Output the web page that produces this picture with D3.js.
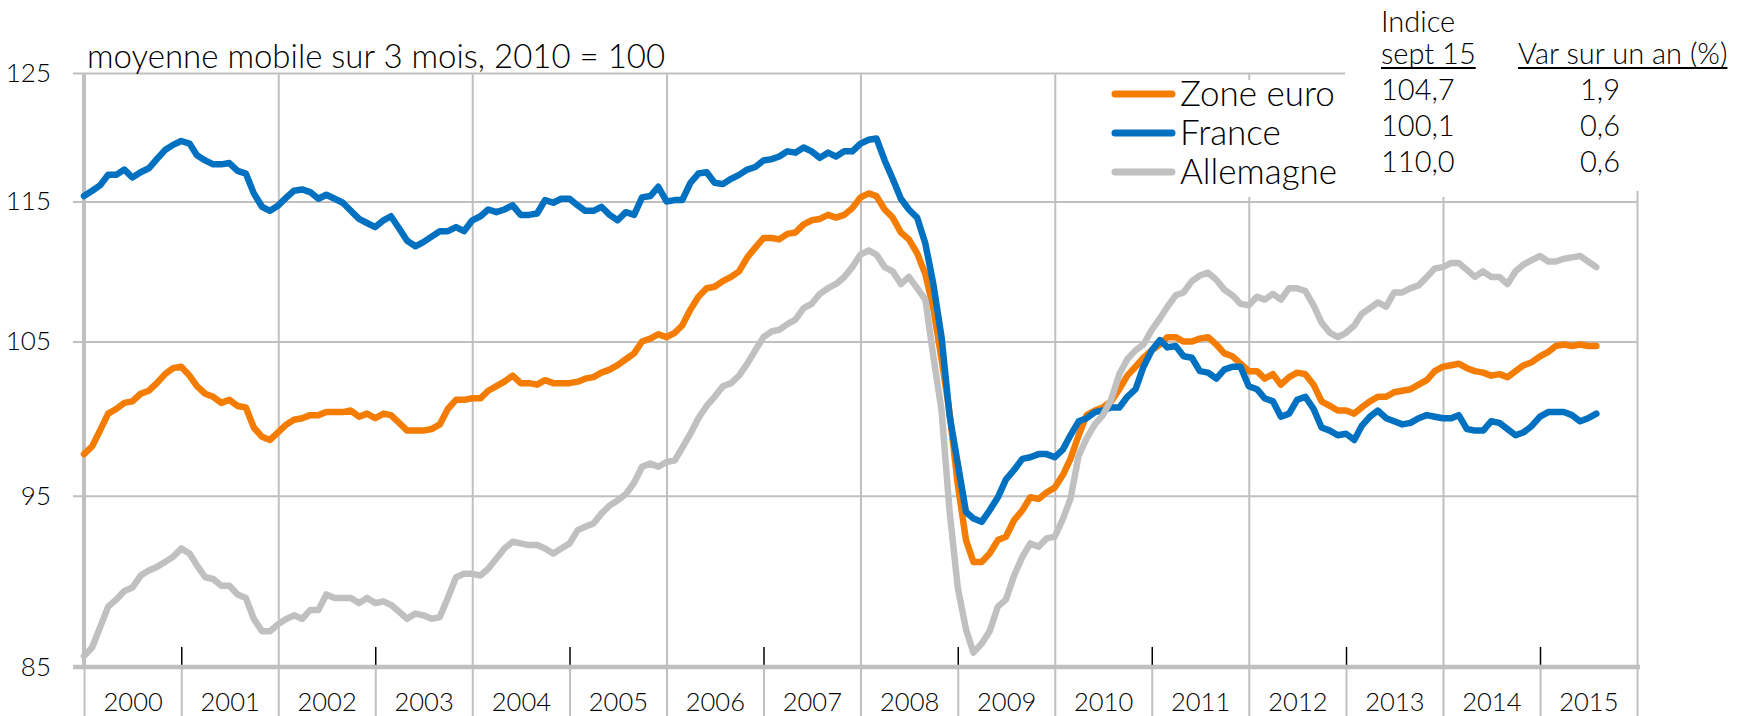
<!DOCTYPE html>
<html>
<head>
<meta charset="utf-8">
<script src="https://cdn.jsdelivr.net/npm/d3@7"></script>
<style>
  body { margin: 0; background: #fff; }
  svg text { font-family: Lato, "Liberation Sans", Arial, sans-serif; font-weight: 300; fill: #000; }
</style>
</head>
<body>
<svg id="chart" width="1756" height="716"></svg>
<script>
// monthly values, 3-month moving average, 2010 = 100, from Jan 2000
const startYear = 2000;

const zoneEuro = [
  97.6, 98.1, 99.1, 100.2, 100.5, 100.9, 101.0, 101.5, 101.7, 102.2, 102.8, 103.2,
  103.3, 102.7, 102.0, 101.5, 101.3, 100.9, 101.1, 100.7, 100.6, 99.3, 98.7, 98.5,
  99.0, 99.5, 99.8, 99.9, 100.1, 100.1, 100.3, 100.3, 100.3, 100.4, 100.0, 100.2,
  99.9, 100.2, 100.1, 99.6, 99.1, 99.1, 99.1, 99.2, 99.5, 100.5, 101.1, 101.1,
  101.2, 101.2, 101.7, 102.0, 102.3, 102.7, 102.2, 102.2, 102.1, 102.4, 102.2, 102.2,
  102.2, 102.3, 102.5, 102.6, 102.9, 103.1, 103.4, 103.8, 104.2, 105.0, 105.2, 105.5,
  105.3, 105.6, 106.1, 107.2, 108.1, 108.7, 108.8, 109.2, 109.5, 109.9, 110.9, 111.6,
  112.3, 112.3, 112.2, 112.6, 112.7, 113.3, 113.6, 113.7, 114.0, 113.8, 114.0, 114.5,
  115.3, 115.6, 115.4, 114.4, 113.8, 112.7, 112.2, 111.2, 109.7, 107.3, 103.8, 100.3,
  95.7, 92.3, 91.0, 91.0, 91.5, 92.3, 92.5, 93.5, 94.1, 94.9, 94.8, 95.2,
  95.5, 96.3, 97.3, 98.8, 100.1, 100.4, 100.6, 101.0, 101.8, 102.7, 103.3, 103.9,
  104.4, 104.8, 105.3, 105.3, 105.0, 105.0, 105.2, 105.3, 104.8, 104.2, 104.0, 103.5,
  103.0, 103.0, 102.5, 102.8, 102.1, 102.6, 102.9, 102.8, 102.1, 101.0, 100.7, 100.4,
  100.4, 100.2, 100.6, 101.0, 101.3, 101.3, 101.6, 101.7, 101.8, 102.1, 102.4, 103.0,
  103.3, 103.4, 103.5, 103.2, 103.0, 102.9, 102.7, 102.8, 102.6, 103.0, 103.4, 103.6,
  104.0, 104.3, 104.7, 104.8, 104.7, 104.8, 104.7, 104.7
];

const france = [
  115.4, 115.8, 116.2, 117.0, 117.0, 117.4, 116.8, 117.2, 117.5, 118.2, 118.9, 119.3,
  119.6, 119.4, 118.5, 118.1, 117.8, 117.8, 117.9, 117.3, 117.1, 115.6, 114.6, 114.3,
  114.7, 115.3, 115.8, 115.9, 115.7, 115.2, 115.5, 115.2, 114.9, 114.3, 113.7, 113.4,
  113.1, 113.6, 113.9, 113.0, 112.1, 111.7, 112.0, 112.4, 112.8, 112.8, 113.1, 112.8,
  113.6, 113.9, 114.4, 114.2, 114.4, 114.7, 114.0, 114.0, 114.1, 115.1, 114.9, 115.2,
  115.2, 114.7, 114.3, 114.3, 114.6, 114.0, 113.6, 114.2, 114.0, 115.3, 115.4, 116.1,
  115.0, 115.1, 115.1, 116.4, 117.1, 117.2, 116.4, 116.3, 116.7, 117.0, 117.4, 117.6,
  118.1, 118.2, 118.4, 118.8, 118.7, 119.1, 118.8, 118.3, 118.7, 118.4, 118.8, 118.8,
  119.4, 119.7, 119.8, 118.1, 116.7, 115.2, 114.4, 113.8, 111.9, 109.0, 105.3, 100.1,
  97.0, 94.0, 93.6, 93.4, 94.1, 94.9, 96.0, 96.6, 97.3, 97.4, 97.6, 97.6,
  97.4, 97.9, 98.8, 99.7, 99.9, 100.3, 100.4, 100.6, 100.6, 101.3, 101.8, 103.3,
  104.4, 105.1, 104.6, 104.7, 104.0, 103.9, 103.0, 102.9, 102.5, 103.1, 103.3, 103.3,
  102.0, 101.8, 101.2, 101.0, 100.0, 100.2, 101.1, 101.3, 100.5, 99.3, 99.1, 98.8,
  98.9, 98.5, 99.4, 100.0, 100.4, 99.9, 99.7, 99.5, 99.6, 99.9, 100.1, 100.0,
  99.9, 99.9, 100.1, 99.2, 99.1, 99.1, 99.7, 99.6, 99.2, 98.8, 99.0, 99.4,
  100.0, 100.3, 100.3, 100.3, 100.1, 99.7, 99.9, 100.2
];

const allemagne = [
  85.6, 86.1, 87.2, 88.4, 88.8, 89.3, 89.5, 90.2, 90.5, 90.7, 91.0, 91.3,
  91.8, 91.5, 90.8, 90.1, 90.0, 89.6, 89.6, 89.1, 88.9, 87.7, 87.0, 87.0,
  87.4, 87.7, 87.9, 87.7, 88.2, 88.2, 89.1, 88.9, 88.9, 88.9, 88.6, 88.9,
  88.6, 88.7, 88.5, 88.1, 87.7, 88.0, 87.9, 87.7, 87.8, 88.9, 90.1, 90.3,
  90.3, 90.2, 90.6, 91.2, 91.8, 92.2, 92.1, 92.0, 92.0, 91.8, 91.5, 91.8,
  92.1, 92.9, 93.1, 93.3, 93.9, 94.4, 94.7, 95.1, 95.8, 96.8, 97.0, 96.8,
  97.1, 97.2, 98.0, 98.9, 99.9, 100.7, 101.3, 102.0, 102.2, 102.7, 103.5, 104.4,
  105.3, 105.7, 105.8, 106.2, 106.5, 107.3, 107.6, 108.3, 108.7, 109.0, 109.5, 110.2,
  111.1, 111.4, 111.1, 110.2, 109.9, 109.0, 109.5, 108.7, 107.9, 104.0, 100.4, 94.1,
  89.5, 87.1, 85.8, 86.3, 87.0, 88.4, 88.8, 90.2, 91.3, 92.1, 91.9, 92.4,
  92.5, 93.6, 94.8, 97.5, 98.6, 99.5, 100.1, 101.1, 102.8, 103.8, 104.4, 104.8,
  105.8, 106.6, 107.4, 108.2, 108.4, 109.2, 109.6, 109.8, 109.3, 108.6, 108.2, 107.6,
  107.5, 108.1, 107.9, 108.3, 107.9, 108.7, 108.7, 108.5, 107.5, 106.3, 105.6, 105.3,
  105.6, 106.1, 106.9, 107.3, 107.7, 107.4, 108.4, 108.4, 108.7, 108.9, 109.5, 110.1,
  110.2, 110.5, 110.5, 110.0, 109.5, 109.9, 109.5, 109.5, 109.0, 109.9, 110.4, 110.7,
  111.0, 110.6, 110.6, 110.8, 110.9, 111.0, 110.6, 110.2
];

const yTicks = [85, 95, 105, 115, 125];
const years = d3.range(2000, 2016);
const seriesNames = ["Zone euro", "France", "Allemagne"];
const tableHead1 = "Indice";
const tableHead2 = ["sept 15", "Var sur un an (%)"];
const tableIndice = ["104,7", "100,1", "110,0"];
const tableVar = ["1,9", "0,6", "0,6"];
const title = "moyenne mobile sur 3 mois, 2010 = 100";

const colors = ["#f47c00", "#0070c0", "#c0c0c0"];
const gridColor = "#c0c0c0";

const svg = d3.select("#chart");
const plotL = 84, plotR = 1637, plotT = 73, plotB = 667;

const x = d3.scaleTime()
  .domain([new Date(startYear, 0, 1), new Date(2016, 0, 1)])
  .range([plotL, plotR]);
const y = d3.scaleLog()
  .domain([85, 125])
  .range([plotB, plotT]);

const monthDate = i => new Date(startYear, i, 1);
const yearStart = yr => new Date(yr, 0, 1);

// horizontal gridlines (with small stubs left of the axis)
const hGrid = svg.append("g")
  .attr("transform", "translate(" + plotR + ",0)")
  .call(d3.axisLeft(y).tickValues(yTicks.slice(1)).tickSize(plotR - 73).tickFormat(""));
hGrid.select(".domain").remove();
hGrid.selectAll("line").attr("stroke", gridColor).attr("stroke-width", 2);

// vertical gridlines every two years
const vGrid = svg.append("g")
  .attr("transform", "translate(0," + plotB + ")")
  .call(d3.axisBottom(x).tickValues(d3.range(2002, 2017, 2).map(yearStart)).tickSize(-(plotB - plotT)).tickFormat(""));
vGrid.select(".domain").remove();
vGrid.selectAll("line").attr("stroke", gridColor).attr("stroke-width", 2);

// separators between year labels
const sep = svg.append("g")
  .attr("transform", "translate(0," + plotB + ")")
  .call(d3.axisBottom(x).tickValues(d3.range(2000, 2017).map(yearStart)).tickSize(50).tickFormat(""));
sep.select(".domain").remove();
sep.selectAll("line").attr("stroke", gridColor).attr("stroke-width", 2);

// small black ticks on odd years
const oddTicks = svg.append("g")
  .attr("transform", "translate(0," + plotB + ")")
  .call(d3.axisBottom(x).tickValues(d3.range(2001, 2016, 2).map(yearStart)).tickSize(-20).tickFormat(""));
oddTicks.select(".domain").remove();
oddTicks.selectAll("line").attr("stroke", "#000").attr("stroke-width", 1.5);

// year labels, centred in each year
const yearAxis = svg.append("g")
  .attr("transform", "translate(0," + plotB + ")")
  .call(d3.axisBottom(x).tickValues(years.map(yr => new Date(yr, 6, 2))).tickSize(0).tickPadding(26)
    .tickFormat(d => d.getFullYear()));
yearAxis.select(".domain").remove();
yearAxis.selectAll("text").style("font-size", "25.5px").attr("fill", "#000");

// white boxes behind legend and table
svg.append("rect").attr("x", 1100).attr("y", 80).attr("width", 345).attr("height", 117).attr("fill", "#fff");
svg.append("rect").attr("x", 1345).attr("y", 0).attr("width", 411).attr("height", 191).attr("fill", "#fff");

// axis lines
svg.append("line")
  .attr("x1", 73).attr("x2", plotR + 3).attr("y1", y(85)).attr("y2", y(85))
  .attr("stroke", gridColor).attr("stroke-width", 4.5);
svg.append("line")
  .attr("x1", plotL).attr("x2", plotL).attr("y1", y(125)).attr("y2", y(85) + 2)
  .attr("stroke", gridColor).attr("stroke-width", 4);

// y labels
const yAxis = svg.append("g")
  .attr("transform", "translate(" + plotL + ",0)")
  .call(d3.axisLeft(y).tickValues(yTicks).tickSize(0).tickPadding(33).tickFormat(d3.format("d")));
yAxis.select(".domain").remove();
yAxis.selectAll("text").style("font-size", "26px").attr("fill", "#000");

// series lines: Zone euro, France, then Allemagne on top
const line = d3.line()
  .x((d, i) => x(monthDate(i)))
  .y(d => y(d));

[zoneEuro, france, allemagne].forEach((s, k) => {
  svg.append("path")
    .datum(s)
    .attr("d", line)
    .attr("fill", "none")
    .attr("stroke", colors[k])
    .attr("stroke-width", 6.5)
    .attr("stroke-linejoin", "round")
    .attr("stroke-linecap", "round");
});

// title
svg.append("text").attr("x", 87).attr("y", 68).style("font-size", "33px").text(title);

// legend
const legendY = [94, 133, 172];
seriesNames.forEach((name, k) => {
  svg.append("line")
    .attr("x1", 1115).attr("x2", 1172).attr("y1", legendY[k]).attr("y2", legendY[k])
    .attr("stroke", colors[k]).attr("stroke-width", 7).attr("stroke-linecap", "round");
  svg.append("text").attr("x", 1180).attr("y", legendY[k] + 12).style("font-size", "35px").text(name);
});

// table
svg.append("text").attr("x", 1381).attr("y", 32).style("font-size", "29px").text(tableHead1);
const h1 = svg.append("text").attr("x", 1381).attr("y", 64).style("font-size", "29px").text(tableHead2[0]);
const h2 = svg.append("text").attr("x", 1518).attr("y", 64).style("font-size", "29px").text(tableHead2[1]);
[h1, h2].forEach(t => {
  const bb = t.node().getBBox();
  svg.append("line")
    .attr("x1", bb.x).attr("x2", bb.x + bb.width).attr("y1", 68).attr("y2", 68)
    .attr("stroke", "#000").attr("stroke-width", 2);
});
const rowY = [100, 136, 172];
tableIndice.forEach((v, k) => {
  svg.append("text").attr("x", 1381).attr("y", rowY[k]).style("font-size", "29px").text(v);
  svg.append("text").attr("x", 1620).attr("y", rowY[k]).attr("text-anchor", "end").style("font-size", "29px").text(tableVar[k]);
});
</script>
</body>
</html>
